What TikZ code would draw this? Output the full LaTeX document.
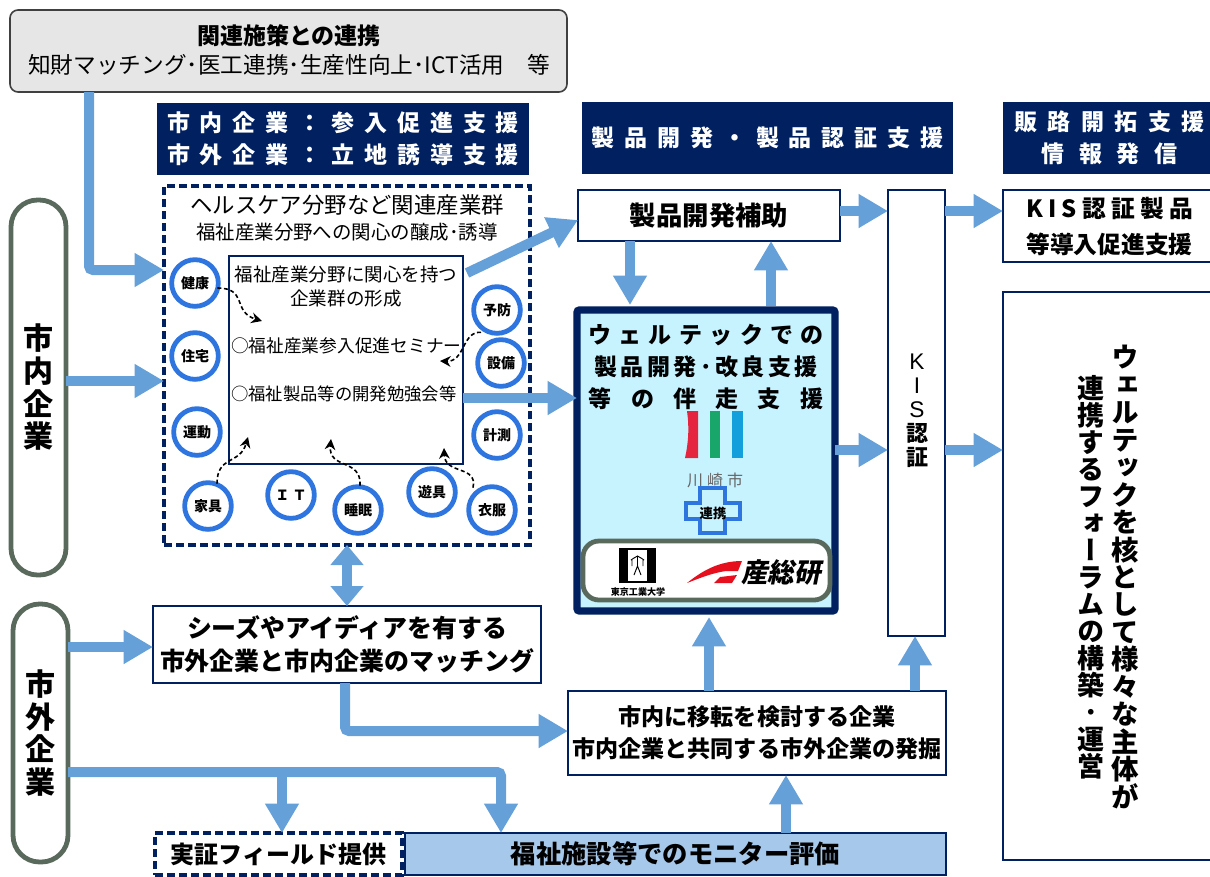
\documentclass[tikz,border=0pt]{standalone}
\usepackage{fontspec}
\setmainfont{Noto Sans CJK JP}
\newfontfamily\vfont[RawFeature=+vert]{Noto Sans CJK JP}
\newfontfamily\latinfont{Liberation Sans}
\usetikzlibrary{arrows.meta,calc}
\definecolor{navy}{HTML}{002060}
\definecolor{flow}{HTML}{66A0D9}
\definecolor{ringblue}{HTML}{2F75E0}
\definecolor{pillgray}{HTML}{596A5C}
\definecolor{skyfill}{HTML}{C6F3FF}
\definecolor{monitor}{HTML}{A6C8EA}
\definecolor{topgray}{HTML}{E6E6E6}
\definecolor{kred}{HTML}{E5243F}
\definecolor{kgreen}{HTML}{18A66A}
\definecolor{kblue}{HTML}{139FDB}
\definecolor{aistred}{HTML}{E60F1E}
\lineskiplimit=-100pt
\newcommand\ls[2]{{\addfontfeature{LetterSpace=#1}#2}}
\newcommand\fsz[2]{\fontsize{#1}{#2}\selectfont}
% name, x1,y1,x2,y2, style, text
\newcommand\bx[7]{\node[#6,minimum width={(#4-#2)*0.75pt},minimum height={(#5-#3)*0.75pt}] (#1) at ({(#2+#4)/2},{(#3+#5)/2}) {#7};}
\tikzset{
  base/.style={inner sep=0pt,outer sep=0pt,align=center,text=black},
  whitebox/.style={base,draw=navy,line width=1.6pt,fill=white},
  banner/.style={base,fill=navy,text=white,font=\bfseries\fsz{17.25}{24}},
  pill/.style={base,draw=pillgray,line width=3.6pt,fill=white,rounded corners=20pt,font=\bfseries\fsz{22.5}{24.5}},
  ring/.style={base,circle,draw=ringblue,line width=3.6pt,fill=white,minimum size=35pt,font=\bfseries\fsz{10.5}{12}},
  dashbox/.style={base,draw=navy,line width=2.5pt,dash pattern=on 6pt off 3pt,fill=white},
  flowline/.style={draw=flow,line width=7.5pt,rounded corners=3pt,-{Triangle[length=22pt,width=24pt]}},
  flowboth/.style={draw=flow,line width=7.5pt,{Triangle[length=15pt,width=24pt]}-{Triangle[length=15pt,width=24pt]}},
  dashcurve/.style={draw=black,line width=1.2pt,dash pattern=on 3pt off 2pt,-{Stealth[length=8pt,width=8pt]}},
  label/.style={base,fill=none},
}
\begin{document}
\begin{tikzpicture}[x=0.75pt,y=-0.75pt]
\useasboundingbox (0,0) rectangle (1210,876);
% top box
\bx{top}{10}{10}{567}{92}{base,draw=black!75,line width=1.2pt,fill=topgray,rounded corners=6pt}{}
\node[label,font=\bfseries\fsz{17.25}{18}] (toptitle) at (289,36) {関連施策との連携};
\node[label,font=\fsz{17}{18}] (topsub) at (289,65) {知財マッチング･医工連携･生産性向上･ICT活用　等};
% banners
\bx{b1}{157}{103}{529}{175}{banner}{\ls{43}{市内企業：参入促進支援}\\\ls{43}{市外企業：立地誘導支援}}
\bx{b2}{582}{102}{953}{174}{banner}{\ls{43}{製品開発・製品認証支援}}
\bx{b3}{1003}{102}{1216}{174}{banner}{\ls{45}{販路開拓支援}\\\ls{65}{情報発信}}
% pills
\bx{naib}{11}{200}{66}{575}{pill}{市\\内\\企\\業}
\bx{gaib}{13}{604}{68}{862}{pill}{\fsz{22.5}{27}市\\外\\企\\業}
% dashed group
\bx{group}{164}{186}{530}{545}{dashbox}{}
\node[label,font=\fsz{16.8}{18}] (g1) at (347,205) {ヘルスケア分野など関連産業群};
\node[label,font=\fsz{14.6}{16}] (g2) at (347,232) {福祉産業分野への関心の醸成･誘導};
\bx{inner}{229}{256}{463}{464}{base,draw=navy,line width=1.8pt,fill=white}{}
\node[label,font=\fsz{13.9}{18}] (i1) at (346,287) {福祉産業分野に関心を持つ\\企業群の形成};
\node[label,font=\fsz{13.3}{15},anchor=west] (i2) at (231,346) {○福祉産業参入促進セミナー};
\node[label,font=\fsz{13}{15},anchor=west] (i3) at (231,394) {○福祉製品等の開発勉強会等};
% rings
\node[ring] (r1) at (195,283) {健康};
\node[ring] (r2) at (195,356) {住宅};
\node[ring] (r3) at (197,432) {運動};
\node[ring] (r4) at (497,310) {予防};
\node[ring] (r5) at (501,363) {設備};
\node[ring] (r6) at (497,435) {計測};
\node[ring] (r7) at (208,506) {家具};
\node[ring] (r8) at (291,495) {Ｉ Ｔ};
\node[ring] (r9) at (358,510) {睡眠};
\node[ring] (r10) at (432,492) {遊具};
\node[ring] (r11) at (492,510) {衣服};
% dashed curved arrows
\coordinate (d1) at (262,321);
\coordinate (d2) at (440,361);
\coordinate (d3) at (248,437);
\coordinate (d4) at (331,439);
\coordinate (d5) at (444,448);
\draw[dashcurve] (r1.east) ++(-1,5) .. controls (248,288) and (232,312) .. (d1);
\draw[dashcurve] (r4.south) ++(-16,-1) .. controls (462,331) and (465,362) .. (d2);
\draw[dashcurve] (r7.north) ++(9,1) .. controls (217,455) and (240,465) .. (d3);
\draw[dashcurve] (r9.north) ++(2,-1) .. controls (362,458) and (328,470) .. (d4);
\draw[dashcurve] (r11.north) ++(-19,1) .. controls (478,465) and (445,475) .. (d5);
% right side boxes
\bx{hojo}{578}{190}{840}{241}{whitebox,font=\bfseries\fsz{19.8}{20}}{製品開発補助}
\bx{kis}{888}{190}{945}{636}{whitebox}{}
\node[label,font=\bfseries\fsz{16.5}{18}] (kist) at (917,411) {{\latinfont\mdseries\fsz{17}{18}K}\\{\latinfont\mdseries\fsz{17}{18}I}\\{\latinfont\mdseries\fsz{17}{18}S}\\認\\証};
\bx{kisp}{1003}{190}{1216}{262}{whitebox,font=\bfseries\fsz{17.8}{27}}{\ls{22}{KIS認証製品}\\等導入促進支援}
\bx{forum}{1003}{292}{1216}{860}{whitebox}{}
\node[label,font=\vfont\bfseries\fsz{20.6}{20.6}] (col1) at (1125,577) {ウ\\ェ\\ル\\テ\\ッ\\ク\\を\\核\\と\\し\\て\\様\\々\\な\\主\\体\\が};
\node[label,font=\vfont\bfseries\fsz{20.25}{20.25}] (col2) at (1091,577) {連\\携\\す\\る\\フ\\ォ\\ー\\ラ\\ム\\の\\構\\築\\･\\運\\営};
% Welltech box
\bx{well}{577}{310}{835}{611}{base,draw=navy,line width=5.6pt,fill=skyfill,rounded corners=2pt}{}
\node[label,font=\bfseries\fsz{17.25}{24}] (w1) at (706,367) {\ls{32}{ウェルテックでの}\\\ls{15}{製品開発･改良支援}\\\ls{84}{等の伴走支援}};
% Kawasaki logo
\fill[kred] (687,411) -- (698,411) -- (698,458) -- (685,458) .. controls (689,440) and (689,425) .. cycle;
\fill[kgreen] (710,411) rectangle (720,458);
\fill[kblue] (732,411) rectangle (743,458);
\node[label,text=black!60,font=\fsz{12}{14}] (kw) at (715,480) {\ls{25}{川崎市}};
\draw[draw=ringblue,line width=2.5pt,fill=skyfill] (700,488) -- (725,488) -- (725,503) -- (740,503) -- (740,519) -- (725,519) -- (725,533) -- (700,533) -- (700,519) -- (686,519) -- (686,503) -- (700,503) -- cycle;
\node[label,font=\bfseries\fsz{10}{11}] (renkei) at (713,513) {連携};
% logos pill
\bx{logos}{583}{541}{830}{600}{base,draw=pillgray,line width=3.6pt,fill=white,rounded corners=12pt}{}
\fill[black] (619,548) rectangle (656,583);
\fill[white] (628,550) rectangle (647,581);
\draw[black,line width=0.7pt] (631,560) -- (634,558) -- (637.5,556) -- (641,558) -- (644,560) (637.5,556) -- (637.5,566) -- (634,575) (637.5,566) -- (641,575) (632,560)--(632,566) (643,560)--(643,566);
\node[label,font=\bfseries\fsz{6.8}{8}] (tit) at (638,592) {東京工業大学};
\fill[aistred] (687,583) .. controls (703,570) and (720,561) .. (742,561) -- (738,571) -- (726,571) .. controls (712,573) and (700,578) .. cycle;
\fill[aistred] (714,583) -- (720,577) -- (737,575) -- (732,583) -- cycle;
\node[label,font=\bfseries\fsz{20}{22}] (aist) at (781,572) {\addfontfeature{FakeSlant=0.2}産総研};
% lower boxes
\bx{seeds}{153}{606}{541}{683}{whitebox,font=\bfseries\fsz{18.7}{25}}{シーズやアイディアを有する\\市外企業と市内企業のマッチング}
\bx{iten}{568}{691}{946}{775}{whitebox,font=\bfseries\fsz{17.3}{24}}{市内に移転を検討する企業\\市内企業と共同する市外企業の発掘}
\bx{field}{155}{833}{402}{875}{dashbox}{\bfseries\fsz{18}{18}実証フィールド提供}
\bx{moni}{405}{833}{946}{875}{base,draw=navy,line width=1.8pt,fill=monitor}{\bfseries\fsz{19}{18}福祉施設等でのモニター評価}
% flows
\draw[flowline] (top.south -| 89,0) -- (89,270) -- (group.west |- 0,270);
\draw[flowline] (naib.east |- 0,381) -- (group.west |- 0,381);
\draw[flowline] (467,273) -- (hojo.west |- 0,220);
\draw[flowline] (inner.east |- 0,398) -- (well.west |- 0,398);
\draw[flowline] (hojo.east |- 0,211) -- (kis.west |- 0,211);
\draw[flowline] (hojo.south -| 630,0) -- (630,305);
\draw[flowline] (771,306) -- (hojo.south -| 771,0);
\draw[flowline] (kis.east |- 0,211) -- (kisp.west |- 0,211);
\draw[flowline] (well.east |- 0,450) -- (kis.west |- 0,450);
\draw[flowline] (kis.east |- 0,450) -- (forum.west |- 0,450);
\draw[flowboth] (group.south -| 347,0) -- (seeds.north -| 347,0);
\draw[flowline] (gaib.east |- 0,647) -- (seeds.west |- 0,647);
\draw[flowline] (seeds.south -| 345,0) -- (345,731) -- (iten.west |- 0,731);
\draw[flowline] (iten.north -| 709,0) -- (709,617);
\draw[flowline] (iten.north -| 915,0) -- (kis.south -| 915,0);
\draw[flowline] (moni.north -| 786,0) -- (iten.south -| 786,0);
\draw[flowline] (gaib.east |- 0,772) -- (501,772) -- (moni.north -| 501,0);
\draw[flowline] (282,772) -- (field.north -| 282,0);
\end{tikzpicture}
\end{document}
